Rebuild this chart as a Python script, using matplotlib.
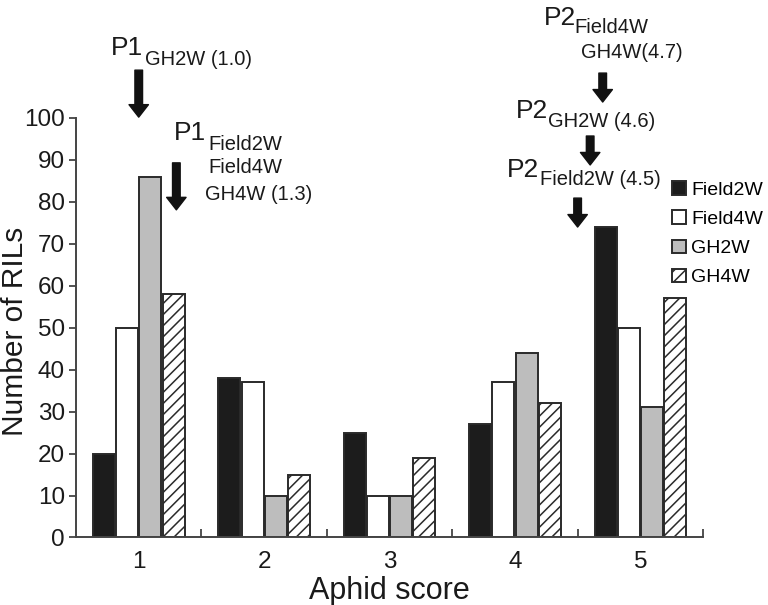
import matplotlib
matplotlib.use("Agg")
import matplotlib.pyplot as plt
import numpy as np

plt.rcParams['font.family'] = ['Liberation Sans', 'DejaVu Sans']

# ---- data ----
scores = [1, 2, 3, 4, 5]
series_names = ["Field2W", "Field4W", "GH2W", "GH4W"]
field2w = [20, 38, 25, 27, 74]
field4w = [50, 37, 10, 37, 50]
gh2w = [86, 10, 10, 44, 31]
gh4w = [58, 15, 19, 32, 57]
yticks = [0, 10, 20, 30, 40, 50, 60, 70, 80, 90, 100]

# parent mean scores (arrow positions)
p1_gh2w = 1.0
p1_other = 1.3
p2_f4_gh4 = 4.7
p2_gh2w = 4.6
p2_f2w = 4.5

fig = plt.figure(figsize=(7.68, 6.05), dpi=100)
ax = fig.add_axes([0.0990, 0.1116, 0.8164, 0.6934])

x = np.array(scores, dtype=float)
w = 0.175
step = 0.185
edge = '#2a2a2a'
styles = [
    dict(color='#1c1c1c', edgecolor=edge),
    dict(color='white', edgecolor=edge),
    dict(color='#bdbdbd', edgecolor=edge),
    dict(color='white', edgecolor=edge, hatch='///'),
]
plt.rcParams['hatch.linewidth'] = 1.1
all_vals = [field2w, field4w, gh2w, gh4w]
for i, (vals, st, name) in enumerate(zip(all_vals, styles, series_names)):
    ax.bar(x + (i - 1.5) * step, vals, width=w, linewidth=1.4, label=name, **st)

ax.set_xlim(0.5, 5.5)
ax.set_ylim(0, 100)
ax.set_yticks(yticks)
ax.set_xticks(scores)
ax.set_xticks([1.5, 2.5, 3.5, 4.5, 5.5], minor=True)
ax.tick_params(axis='x', which='major', length=0, labelsize=17.5, pad=10, colors='#1a1a1a')
ax.tick_params(axis='x', which='minor', direction='in', length=6, width=1.3, color='#444')
ax.tick_params(axis='y', direction='out', length=5, width=1.3, color='#444', labelsize=17.5,
               pad=3, labelcolor='#1a1a1a')
for s in ['top', 'right']:
    ax.spines[s].set_visible(False)
for s in ['left', 'bottom']:
    ax.spines[s].set_color('#444')
    ax.spines[s].set_linewidth(1.4)

ax.set_xlabel("Aphid score", fontsize=22, labelpad=2, color='#1a1a1a')
ax.set_ylabel("Number of RILs", fontsize=21.5, color='#1a1a1a', va='center')
ax.yaxis.set_label_coords(-0.098, 0.492)

leg = fig.legend(loc='upper left', bbox_to_anchor=(672 / 768, 1 - 181 / 605),
                 frameon=False, fontsize=14, handlelength=0.7, handleheight=0.7,
                 handletextpad=0.3, labelspacing=0.6, borderpad=0, borderaxespad=0)

# ---- annotations ----
big = 19
small = 14.5
tc = '#1a1a1a'
arrow_kw = dict(facecolor='#111', edgecolor='#111', width=5.5, headwidth=14, headlength=9)


def arrow(xv, ytop, ytip):
    ax.annotate('', xy=(xv, ytip), xytext=(xv, ytop), xycoords='data',
                arrowprops=arrow_kw, annotation_clip=False)


def txt(xv, yv, s, size):
    ax.text(xv, yv, s, fontsize=size, ha='left', va='baseline', color=tc, clip_on=False)


# P1 GH2W (1.0)
txt(p1_gh2w - 0.225, 115.0, "P1", big)
txt(p1_gh2w + 0.050, 112.6, "GH2W (1.0)", small)
arrow(p1_gh2w, 111.4, 100.2)

# P1 Field2W Field4W GH4W (1.3)
txt(p1_other - 0.020, 94.8, "P1", big)
txt(p1_other + 0.253, 92.4, "Field2W", small)
txt(p1_other + 0.253, 86.9, "Field4W", small)
txt(p1_other + 0.229, 80.5, "GH4W (1.3)", small)
arrow(p1_other, 89.3, 78.1)

# P2 Field4W GH4W (4.7)
txt(p2_f4_gh4 - 0.470, 122.2, "P2", big)
txt(p2_f4_gh4 - 0.223, 120.3, "Field4W", small)
txt(p2_f4_gh4 - 0.175, 114.3, "GH4W(4.7)", small)
arrow(p2_f4_gh4, 110.7, 103.8)

# P2 GH2W (4.6)
txt(p2_gh2w - 0.593, 100.0, "P2", big)
txt(p2_gh2w - 0.339, 97.9, "GH2W (4.6)", small)
arrow(p2_gh2w, 95.7, 88.8)

# P2 Field2W (4.5)
txt(p2_f2w - 0.565, 85.9, "P2", big)
txt(p2_f2w - 0.302, 84.0, "Field2W (4.5)", small)
arrow(p2_f2w, 80.9, 74.0)

fig.savefig("out.png", dpi=100)
